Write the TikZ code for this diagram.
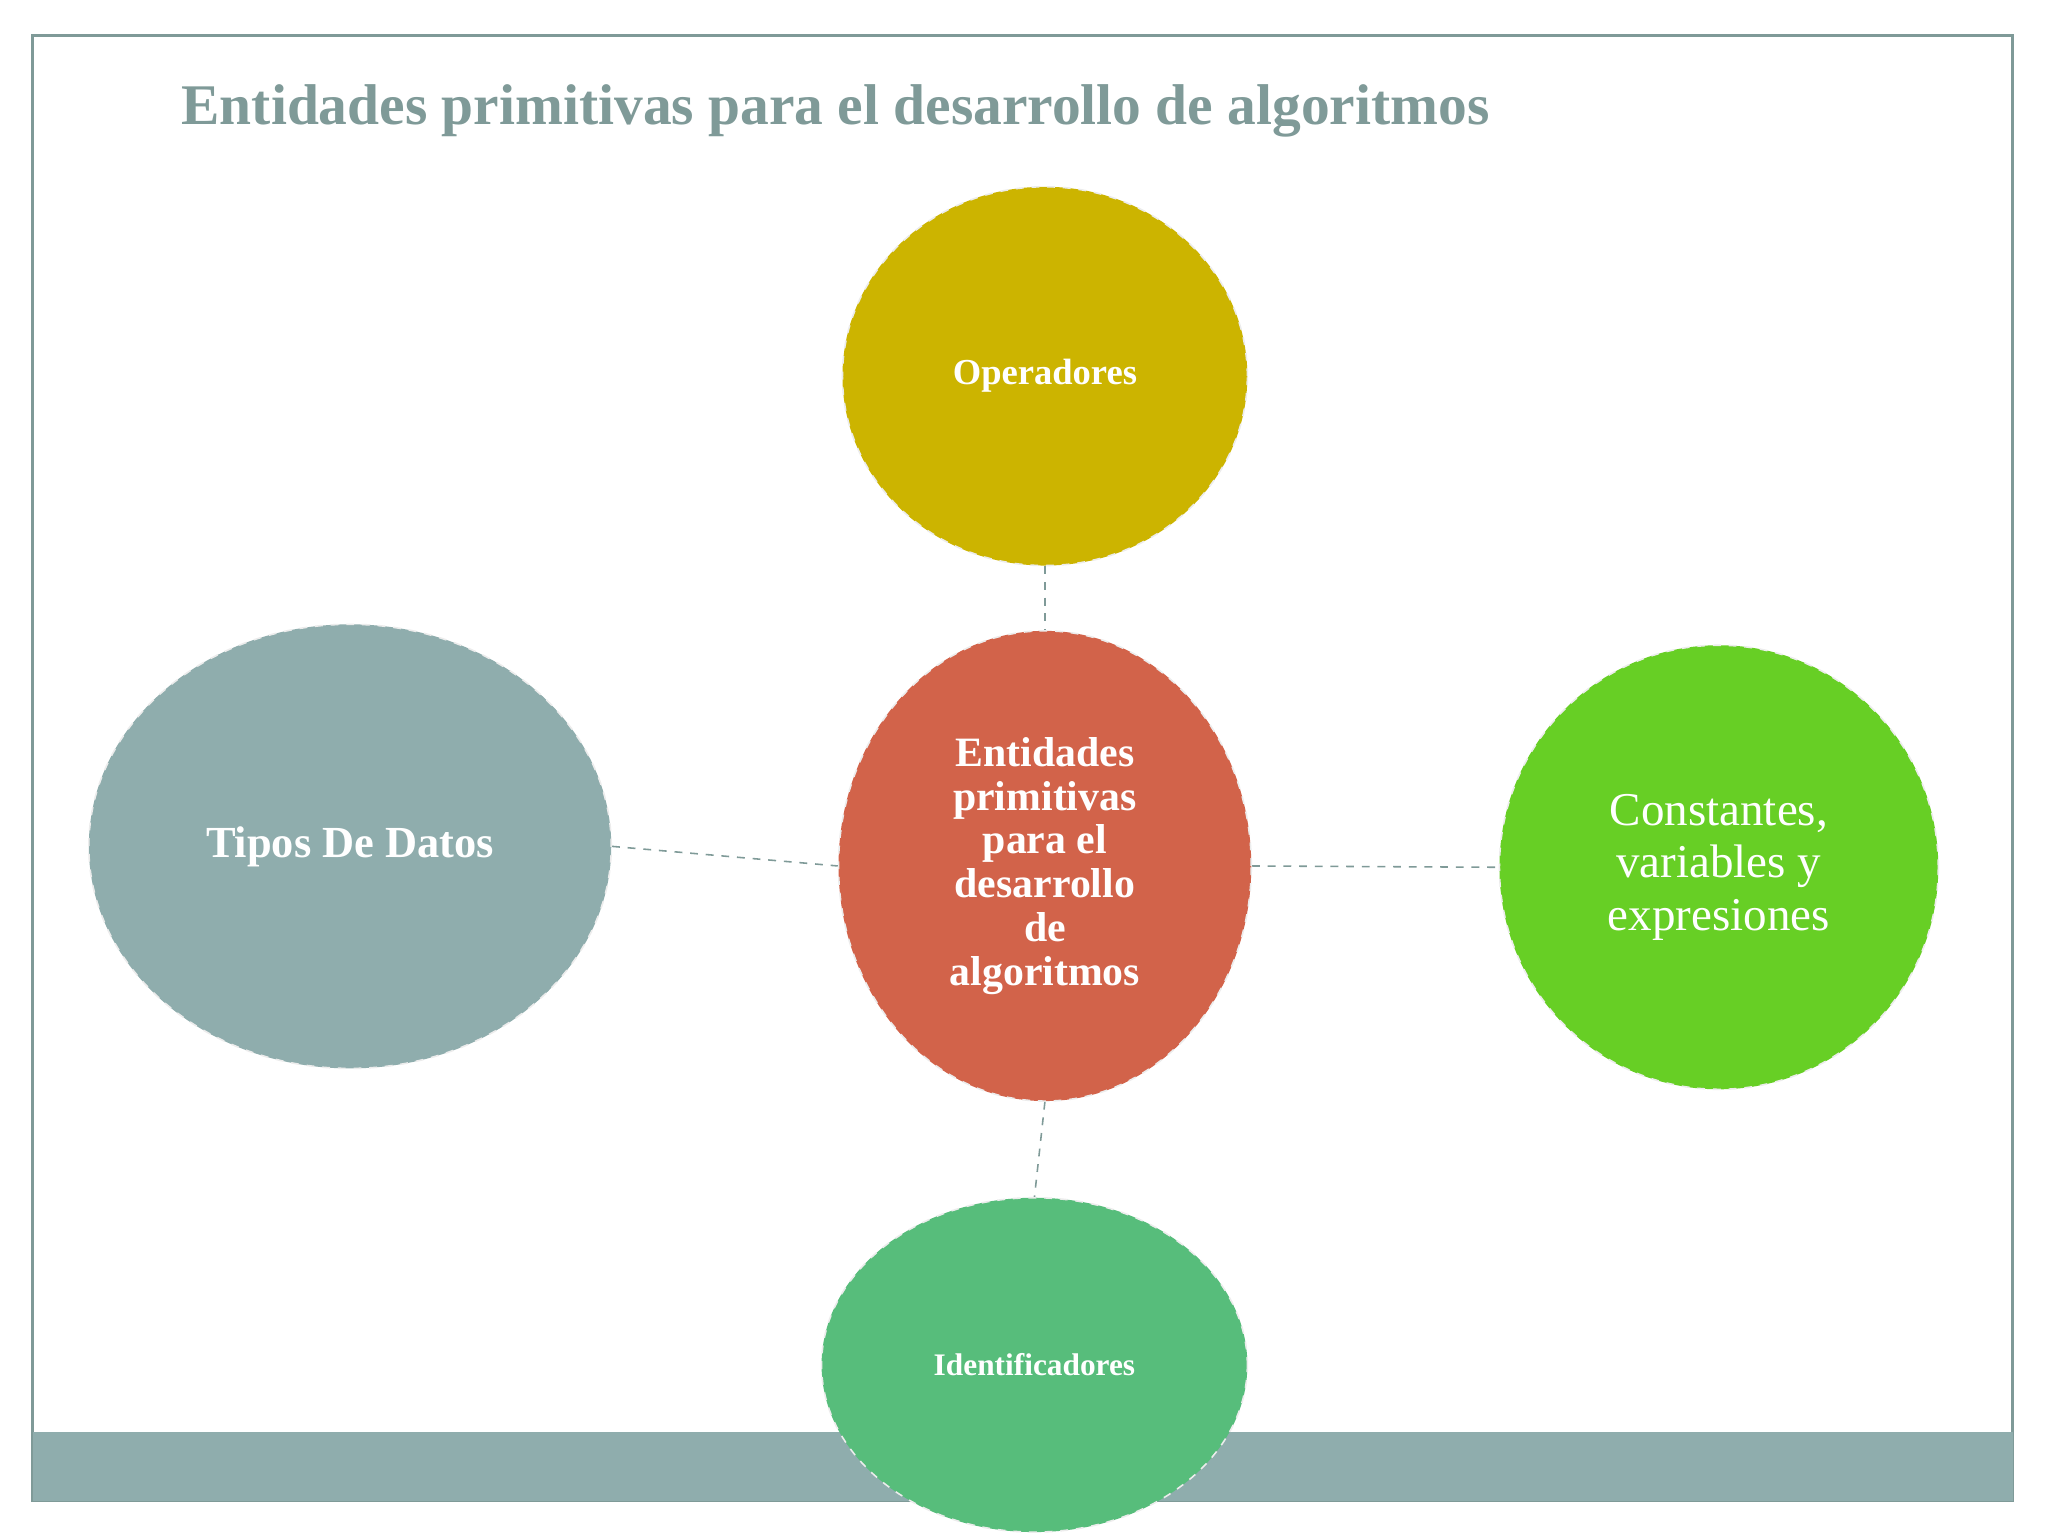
\documentclass[tikz,border=0pt]{standalone}
\usepackage{fontspec}
\setmainfont{Liberation Serif}
\usetikzlibrary{shapes.geometric}
\definecolor{frame}{HTML}{7F9A98}
\definecolor{bar}{HTML}{8FADAD}
\definecolor{opc}{HTML}{CCB400}
\definecolor{cen}{HTML}{D2634A}
\definecolor{con}{HTML}{67CF25}
\definecolor{idc}{HTML}{57BD7B}
\tikzset{
  bub/.style={ellipse, draw=white!85!gray, dashed, line width=0.6pt, inner sep=0pt, text=white, align=center},
  link/.style={draw=frame, dashed, line width=0.6pt}
}
\begin{document}
\begin{tikzpicture}[x=0.5pt,y=-0.5pt]
\useasboundingbox (0,0) rectangle (1568,1176);
\fill[white] (0,0) rectangle (1568,1176);
\draw[frame, line width=1pt] (25,27) rectangle (1541,1149);
\fill[bar] (25,1096) rectangle (1541,1149);
\node[text=frame, font=\bfseries\fontsize{22}{26}\selectfont, anchor=west] (title) at (132,85) {Entidades primitivas para el desarrollo de algoritmos};
\node[bub, fill=opc, minimum width=310*0.5pt, minimum height=290*0.5pt, font=\bfseries\fontsize{14}{16}\selectfont] (op) at (800,288) {Operadores};
\node[bub, fill=cen, minimum width=316*0.5pt, minimum height=360*0.5pt, font=\bfseries\fontsize{16}{16.8}\selectfont] (c) at (800,663) {Entidades\\primitivas\\para el\\desarrollo\\de\\algoritmos};
\node[bub, fill=bar, minimum width=400*0.5pt, minimum height=340*0.5pt, font=\bfseries\fontsize{17}{20}\selectfont] (td) at (268,648) {Tipos De Datos};
\node[bub, fill=con, minimum width=336*0.5pt, minimum height=340*0.5pt, font=\fontsize{18}{20}\selectfont] (cv) at (1316,664) {Constantes,\\variables y\\expresiones};
\node[bub, fill=idc, minimum width=326*0.5pt, minimum height=256*0.5pt, font=\bfseries\fontsize{12}{14}\selectfont] (id) at (792,1045) {Identificadores};
\draw[link] (op.south) -- (c.north);
\draw[link] (td.east) -- (c.west);
\draw[link] (c.east) -- (cv.west);
\draw[link] (c.south) -- (id.north);
\end{tikzpicture}
\end{document}
